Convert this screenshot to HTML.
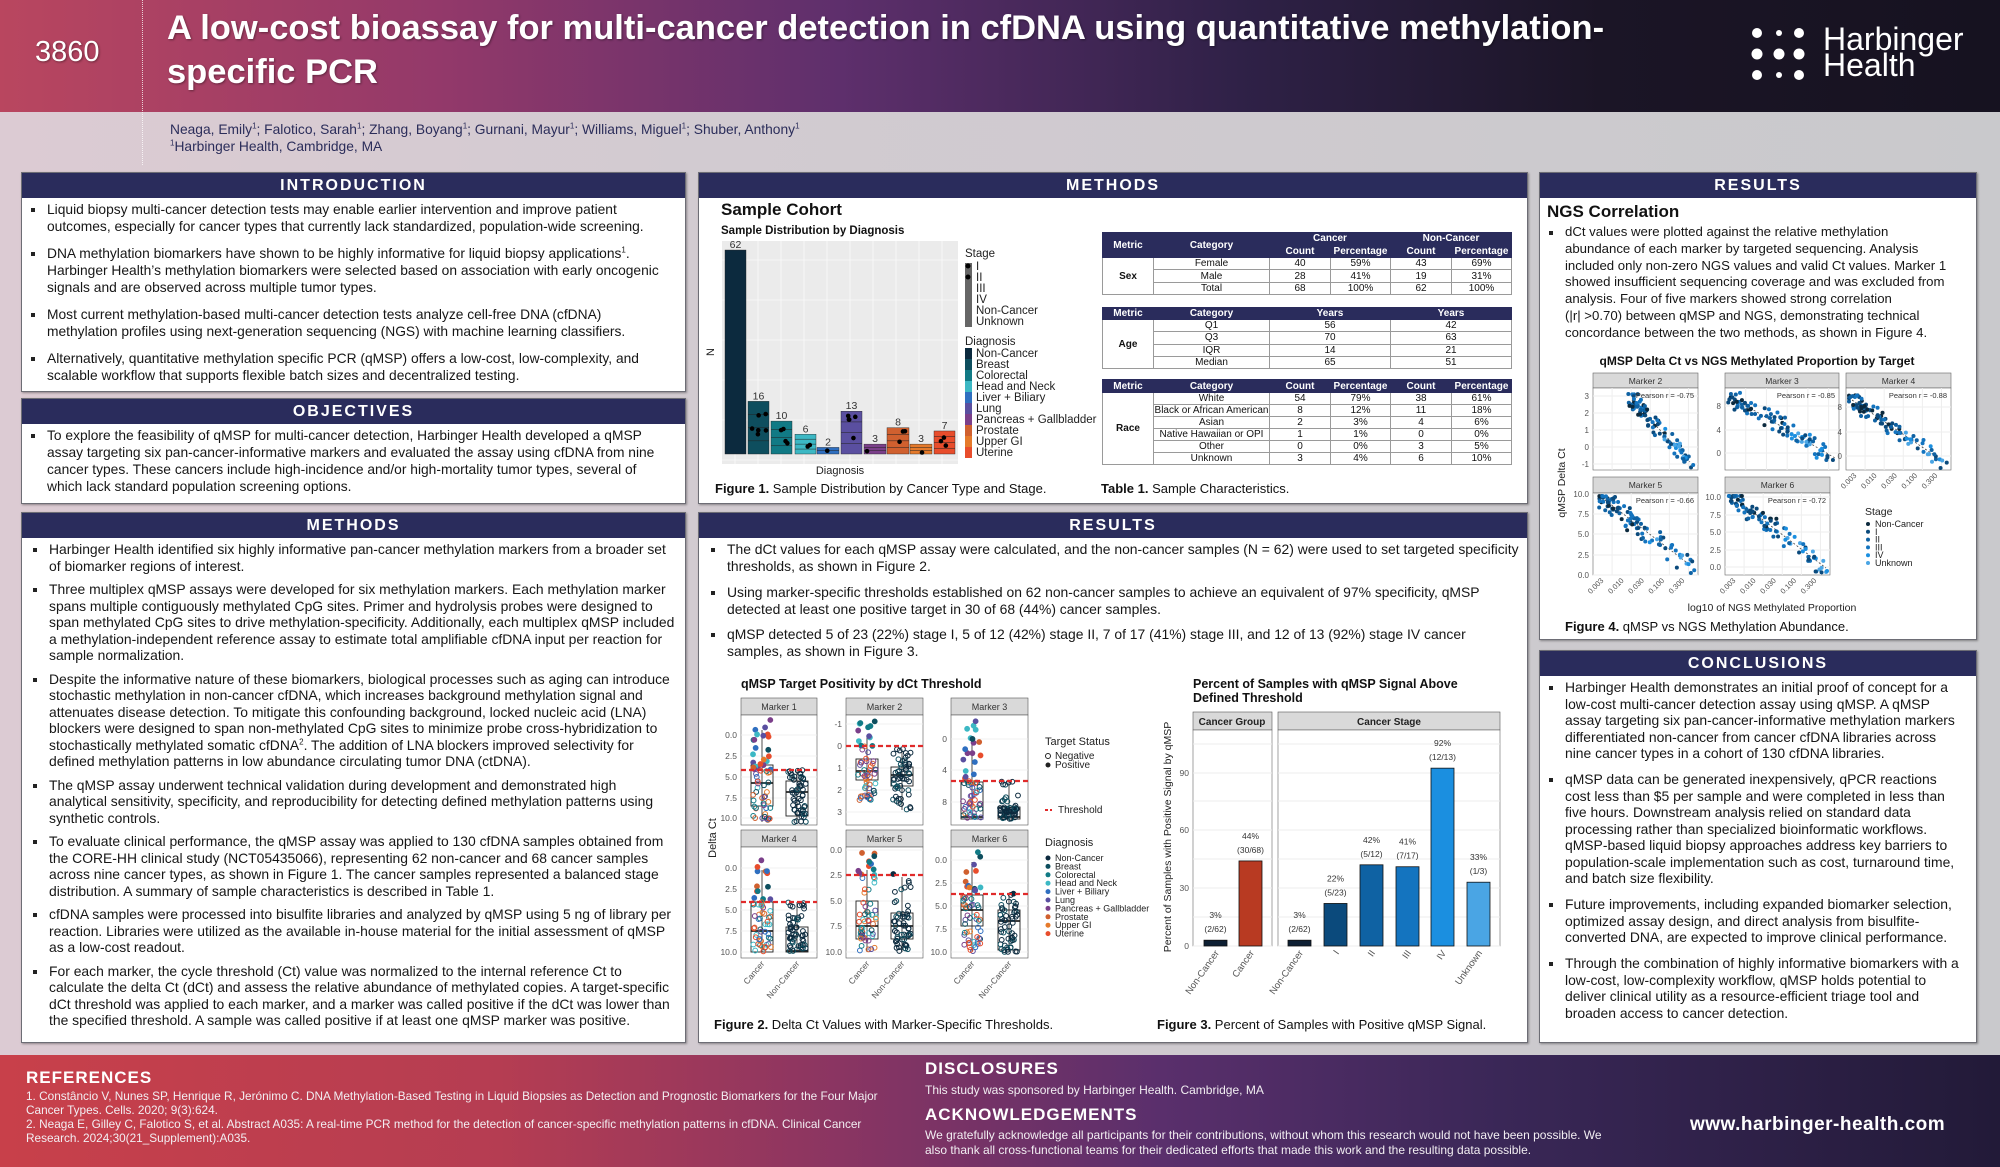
<!DOCTYPE html>
<html><head><meta charset="utf-8">
<style>
*{box-sizing:border-box}
body{margin:0;width:2000px;height:1167px;overflow:hidden;position:relative;font-family:"Liberation Sans",Arial,sans-serif;background:linear-gradient(90deg,#dccbd3 0%,#d2cbd1 35%,#c9c9cc 100%);color:#111}
.abs{position:absolute}
#hdr{left:0;top:0;width:2000px;height:112px;background:linear-gradient(90deg,#b9465f 0%,#93396a 22%,#5e2f6c 42%,#2f2147 62%,#1b1526 80%,#161220 100%)}
.panel{position:absolute;background:#fff;border:1px solid #6d6d75;box-shadow:1px 1px 2px rgba(0,0,0,.35)}
.ph{position:absolute;left:0;right:0;top:0;background:#2a2c5c;color:#fff;font-weight:bold;font-size:16px;letter-spacing:2px;text-align:center;line-height:25px;height:25px}
.txt{position:absolute;font-size:13.8px;white-space:nowrap;color:#161616}
.txt p{margin:0;position:relative;padding-left:17px}
.txt p:before{content:"";position:absolute;left:1px;top:7px;width:4px;height:4px;background:#222}
sup{font-size:8px;line-height:0}
table{border-collapse:collapse;position:absolute;left:1102px;width:409px;font-size:10px;text-align:center;table-layout:fixed}
td,th{border:1px solid #9a9a9a;padding:0;line-height:11px;overflow:hidden;white-space:nowrap}
th{background:#2a2c5c;color:#fff;font-weight:bold;border-color:#2a2c5c}
td.m{font-weight:bold}
.cap{position:absolute;font-size:13px;white-space:nowrap}
.cap b{font-weight:bold}
.ft{position:absolute;color:#f2eef2;white-space:nowrap}
</style></head><body>
<div id="hdr" class="abs"></div>
<div class="abs" style="left:142px;top:0;height:165px;border-left:1px dotted rgba(255,255,255,.75)"></div>
<div class="abs" style="left:35px;top:36px;font-size:29px;color:#fff;text-shadow:1px 1px 2px rgba(0,0,0,.4)">3860</div>
<div class="abs" style="left:167px;top:6px;font-size:34.5px;line-height:44px;font-weight:bold;color:#fff;white-space:nowrap;text-shadow:1px 1px 2px rgba(0,0,0,.4)">A low-cost bioassay for multi-cancer detection in cfDNA using quantitative methylation-<br>specific PCR</div>
<svg class="abs" style="left:1745px;top:22px" width="64" height="64"><g fill="#fff"><circle cx="12" cy="11" r="5"/><circle cx="34" cy="11" r="3"/><circle cx="54" cy="11" r="5"/><circle cx="12" cy="32" r="5.5"/><circle cx="34" cy="32" r="5.5"/><circle cx="54" cy="32" r="5.5"/><circle cx="12" cy="53" r="5"/><circle cx="34" cy="53" r="3"/><circle cx="54" cy="53" r="5"/></g></svg>
<div class="abs" style="left:1823px;top:26px;font-size:32px;line-height:26px;color:#fff;white-space:nowrap">Harbinger<br>Health</div>
<div class="abs" style="left:170px;top:121px;font-size:13.8px;line-height:17px;color:#2b2d5a;white-space:nowrap">Neaga, Emily<sup>1</sup>; Falotico, Sarah<sup>1</sup>; Zhang, Boyang<sup>1</sup>; Gurnani, Mayur<sup>1</sup>; Williams, Miguel<sup>1</sup>; Shuber, Anthony<sup>1</sup><br><sup>1</sup>Harbinger Health, Cambridge, MA</div>

<!-- LEFT COLUMN -->
<div class="panel" style="left:21px;top:172px;width:665px;height:220px"><div class="ph">INTRODUCTION</div></div>
<div class="txt" style="left:30px;top:201px;line-height:17px">
<p style="margin-bottom:10px">Liquid biopsy multi-cancer detection tests may enable earlier intervention and improve patient<br>outcomes, especially for cancer types that currently lack standardized, population-wide screening.</p>
<p style="margin-bottom:10px">DNA methylation biomarkers have shown to be highly informative for liquid biopsy applications<sup>1</sup>.<br>Harbinger Health’s methylation biomarkers were selected based on association with early oncogenic<br>signals and are observed across multiple tumor types.</p>
<p style="margin-bottom:10px">Most current methylation-based multi-cancer detection tests analyze cell-free DNA (cfDNA)<br>methylation profiles using next-generation sequencing (NGS) with machine learning classifiers.</p>
<p>Alternatively, quantitative methylation specific PCR (qMSP) offers a low-cost, low-complexity, and<br>scalable workflow that supports flexible batch sizes and decentralized testing.</p>
</div>
<div class="panel" style="left:21px;top:398px;width:665px;height:106px"><div class="ph">OBJECTIVES</div></div>
<div class="txt" style="left:30px;top:427px;line-height:17px">
<p>To explore the feasibility of qMSP for multi-cancer detection, Harbinger Health developed a qMSP<br>assay targeting six pan-cancer-informative markers and evaluated the assay using cfDNA from nine<br>cancer types. These cancers include high-incidence and/or high-mortality tumor types, several of<br>which lack standard population screening options.</p>
</div>
<div class="panel" style="left:21px;top:512px;width:665px;height:531px"><div class="ph">METHODS</div></div>
<div class="txt" style="left:32px;top:541px;line-height:16.5px;font-size:13.9px">
<p style="margin-bottom:7px">Harbinger Health identified six highly informative pan-cancer methylation markers from a broader set<br>of biomarker regions of interest.</p>
<p style="margin-bottom:7px">Three multiplex qMSP assays were developed for six methylation markers. Each methylation marker<br>spans multiple contiguously methylated CpG sites. Primer and hydrolysis probes were designed to<br>span methylated CpG sites to drive methylation-specificity. Additionally, each multiplex qMSP included<br>a methylation-independent reference assay to estimate total amplifiable cfDNA input per reaction for<br>sample normalization.</p>
<p style="margin-bottom:7px">Despite the informative nature of these biomarkers, biological processes such as aging can introduce<br>stochastic methylation in non-cancer cfDNA, which increases background methylation signal and<br>attenuates disease detection. To mitigate this confounding background, locked nucleic acid (LNA)<br>blockers were designed to span non-methylated CpG sites to minimize probe cross-hybridization to<br>stochastically methylated somatic cfDNA<sup>2</sup>. The addition of LNA blockers improved selectivity for<br>defined methylation patterns in low abundance circulating tumor DNA (ctDNA).</p>
<p style="margin-bottom:7px">The qMSP assay underwent technical validation during development and demonstrated high<br>analytical sensitivity, specificity, and reproducibility for detecting defined methylation patterns using<br>synthetic controls.</p>
<p style="margin-bottom:7px">To evaluate clinical performance, the qMSP assay was applied to 130 cfDNA samples obtained from<br>the CORE-HH clinical study (NCT05435066), representing 62 non-cancer and 68 cancer samples<br>across nine cancer types, as shown in Figure 1. The cancer samples represented a balanced stage<br>distribution. A summary of sample characteristics is described in Table 1.</p>
<p style="margin-bottom:7px">cfDNA samples were processed into bisulfite libraries and analyzed by qMSP using 5 ng of library per<br>reaction. Libraries were utilized as the available in-house material for the initial assessment of qMSP<br>as a low-cost readout.</p>
<p>For each marker, the cycle threshold (Ct) value was normalized to the internal reference Ct to<br>calculate the delta Ct (dCt) and assess the relative abundance of methylated copies. A target-specific<br>dCt threshold was applied to each marker, and a marker was called positive if the dCt was lower than<br>the specified threshold. A sample was called positive if at least one qMSP marker was positive.</p>
</div>

<!-- MIDDLE COLUMN -->
<div class="panel" style="left:698px;top:172px;width:830px;height:332px"><div class="ph">METHODS</div></div>
<div class="abs" style="left:721px;top:200px;font-size:17px;font-weight:bold">Sample Cohort</div>
<div class="abs" style="left:721px;top:225px;font-size:11.5px;font-weight:bold">Sample Distribution by Diagnosis</div>
<div class="cap" style="left:715px;top:481px"><b>Figure 1.</b> Sample Distribution by Cancer Type and Stage.</div>

<table style="top:232px"><colgroup><col style="width:51px"><col style="width:116px"><col style="width:61px"><col style="width:60px"><col style="width:61px"><col style="width:60px"></colgroup>
<tr style="height:12px"><th rowspan="2">Metric</th><th rowspan="2">Category</th><th colspan="2">Cancer</th><th colspan="2">Non-Cancer</th></tr>
<tr style="height:13px"><th>Count</th><th>Percentage</th><th>Count</th><th>Percentage</th></tr>
<tr style="height:12px"><td rowspan="3" class="m">Sex</td><td>Female</td><td>40</td><td>59%</td><td>43</td><td>69%</td></tr>
<tr style="height:13px"><td>Male</td><td>28</td><td>41%</td><td>19</td><td>31%</td></tr>
<tr style="height:11px"><td>Total</td><td>68</td><td>100%</td><td>62</td><td>100%</td></tr>
</table>
<table style="top:307px"><colgroup><col style="width:51px"><col style="width:116px"><col style="width:121px"><col style="width:121px"></colgroup>
<tr style="height:12px"><th>Metric</th><th>Category</th><th>Years</th><th>Years</th></tr>
<tr style="height:12.3px"><td rowspan="4" class="m">Age</td><td>Q1</td><td>56</td><td>42</td></tr>
<tr style="height:12.3px"><td>Q3</td><td>70</td><td>63</td></tr>
<tr style="height:12.3px"><td>IQR</td><td>14</td><td>21</td></tr>
<tr style="height:12.3px"><td>Median</td><td>65</td><td>51</td></tr>
</table>
<table style="top:379px"><colgroup><col style="width:51px"><col style="width:116px"><col style="width:61px"><col style="width:60px"><col style="width:61px"><col style="width:60px"></colgroup>
<tr style="height:13px"><th>Metric</th><th>Category</th><th>Count</th><th>Percentage</th><th>Count</th><th>Percentage</th></tr>
<tr style="height:12px"><td rowspan="6" class="m">Race</td><td>White</td><td>54</td><td>79%</td><td>38</td><td>61%</td></tr>
<tr style="height:12px"><td>Black or African American</td><td>8</td><td>12%</td><td>11</td><td>18%</td></tr>
<tr style="height:12px"><td>Asian</td><td>2</td><td>3%</td><td>4</td><td>6%</td></tr>
<tr style="height:12px"><td>Native Hawaiian or OPI</td><td>1</td><td>1%</td><td>0</td><td>0%</td></tr>
<tr style="height:12px"><td>Other</td><td>0</td><td>0%</td><td>3</td><td>5%</td></tr>
<tr style="height:12px"><td>Unknown</td><td>3</td><td>4%</td><td>6</td><td>10%</td></tr>
</table>
<div class="cap" style="left:1101px;top:481px"><b>Table 1.</b> Sample Characteristics.</div>

<div class="panel" style="left:698px;top:512px;width:830px;height:531px"><div class="ph">RESULTS</div></div>
<div class="txt" style="left:710px;top:541px;line-height:17.3px;font-size:13.9px">
<p style="margin-bottom:8px">The dCt values for each qMSP assay were calculated, and the non-cancer samples (N = 62) were used to set targeted specificity<br>thresholds, as shown in Figure 2.</p>
<p style="margin-bottom:8px">Using marker-specific thresholds established on 62 non-cancer samples to achieve an equivalent of 97% specificity, qMSP<br>detected at least one positive target in 30 of 68 (44%) cancer samples.</p>
<p>qMSP detected 5 of 23 (22%) stage I, 5 of 12 (42%) stage II, 7 of 17 (41%) stage III, and 12 of 13 (92%) stage IV cancer<br>samples, as shown in Figure 3.</p>
</div>
<div class="cap" style="left:714px;top:1017px"><b>Figure 2.</b> Delta Ct Values with Marker-Specific Thresholds.</div>
<div class="cap" style="left:1157px;top:1017px"><b>Figure 3.</b> Percent of Samples with Positive qMSP Signal.</div>

<!-- RIGHT COLUMN -->
<div class="panel" style="left:1539px;top:172px;width:438px;height:468px"><div class="ph">RESULTS</div></div>
<div class="abs" style="left:1547px;top:202px;font-size:17px;font-weight:bold">NGS Correlation</div>
<div class="txt" style="left:1548px;top:224px;line-height:16.8px;font-size:13.2px">
<p>dCt values were plotted against the relative methylation<br>abundance of each marker by targeted sequencing. Analysis<br>included only non-zero NGS values and valid Ct values. Marker 1<br>showed insufficient sequencing coverage and was excluded from<br>analysis. Four of five markers showed strong correlation<br>(|r| &gt;0.70) between qMSP and NGS, demonstrating technical<br>concordance between the two methods, as shown in Figure 4.</p>
</div>
<div class="cap" style="left:1565px;top:619px"><b>Figure 4.</b> qMSP vs NGS Methylation Abundance.</div>

<div class="panel" style="left:1539px;top:650px;width:438px;height:393px"><div class="ph">CONCLUSIONS</div></div>
<div class="txt" style="left:1548px;top:679px;line-height:16.5px;font-size:13.9px">
<p style="margin-bottom:9.5px">Harbinger Health demonstrates an initial proof of concept for a<br>low-cost multi-cancer detection assay using qMSP. A qMSP<br>assay targeting six pan-cancer-informative methylation markers<br>differentiated non-cancer from cancer cfDNA libraries across<br>nine cancer types in a cohort of 130 cfDNA libraries.</p>
<p style="margin-bottom:9.5px">qMSP data can be generated inexpensively, qPCR reactions<br>cost less than $5 per sample and were completed in less than<br>five hours. Downstream analysis relied on standard data<br>processing rather than specialized bioinformatic workflows.<br>qMSP-based liquid biopsy approaches address key barriers to<br>population-scale implementation such as cost, turnaround time,<br>and batch size flexibility.</p>
<p style="margin-bottom:9.5px">Future improvements, including expanded biomarker selection,<br>optimized assay design, and direct analysis from bisulfite-<br>converted DNA, are expected to improve clinical performance.</p>
<p>Through the combination of highly informative biomarkers with a<br>low-cost, low-complexity workflow, qMSP holds potential to<br>deliver clinical utility as a resource-efficient triage tool and<br>broaden access to cancer detection.</p>
</div>

<!-- FOOTER -->
<div class="abs" style="left:0;top:1055px;width:2000px;height:112px;background:linear-gradient(90deg,#c8404a 0%,#b53d52 25%,#8a3562 42%,#5a2f6c 58%,#3a2757 75%,#221a38 100%)"></div>
<div class="ft" style="left:26px;top:1068px;font-size:17px;font-weight:bold;letter-spacing:1px;color:#fff">REFERENCES</div>
<div class="ft" style="left:26px;top:1089px;font-size:11.8px;line-height:14px">1. Constâncio V, Nunes SP, Henrique R, Jerónimo C. DNA Methylation-Based Testing in Liquid Biopsies as Detection and Prognostic Biomarkers for the Four Major<br>Cancer Types. Cells. 2020; 9(3):624.<br>2. Neaga E, Gilley C, Falotico S, et al. Abstract A035: A real-time PCR method for the detection of cancer-specific methylation patterns in cfDNA. Clinical Cancer<br>Research. 2024;30(21_Supplement):A035.</div>
<div class="ft" style="left:925px;top:1059px;font-size:17px;font-weight:bold;letter-spacing:1px;color:#fff">DISCLOSURES</div>
<div class="ft" style="left:925px;top:1083px;font-size:12px">This study was sponsored by Harbinger Health. Cambridge, MA</div>
<div class="ft" style="left:925px;top:1105px;font-size:17px;font-weight:bold;letter-spacing:1px;color:#fff">ACKNOWLEDGEMENTS</div>
<div class="ft" style="left:925px;top:1128px;font-size:12px;line-height:14.5px">We gratefully acknowledge all participants for their contributions, without whom this research would not have been possible. We<br>also thank all cross-functional teams for their dedicated efforts that made this work and the resulting data possible.</div>
<div class="ft" style="left:1690px;top:1114px;font-size:19px;font-weight:bold;letter-spacing:.5px;color:#fff">www.harbinger-health.com</div>

<svg id="ch" class="abs" style="left:0;top:0" width="2000" height="1167" viewBox="0 0 2000 1167" font-family="Liberation Sans, Arial, sans-serif">
<rect x="722" y="241" width="236" height="223" fill="#ebebeb"/>
<g id="f1"></g>
<text x="714" y="352" font-size="11" transform="rotate(-90 714 352)" text-anchor="middle" fill="#222">N</text>
<text x="840" y="474" font-size="11" text-anchor="middle" fill="#222">Diagnosis</text>
<g font-size="11.5" fill="#222">
<text x="965" y="257">Stage</text>
<text x="976" y="270">I</text><text x="976" y="281">II</text><text x="976" y="292">III</text><text x="976" y="303">IV</text><text x="976" y="314">Non-Cancer</text><text x="976" y="325">Unknown</text>
<text x="965" y="345">Diagnosis</text>
<text x="976" y="357">Non-Cancer</text><text x="976" y="368">Breast</text><text x="976" y="379">Colorectal</text><text x="976" y="390">Head and Neck</text><text x="976" y="401">Liver + Biliary</text><text x="976" y="412">Lung</text><text x="976" y="423">Pancreas + Gallbladder</text><text x="976" y="434">Prostate</text><text x="976" y="445">Upper GI</text><text x="976" y="456">Uterine</text>
</g>
<rect x="965" y="263" width="7" height="64" fill="#666"/>
<circle cx="968" cy="266" r="2.5" fill="#000"/><circle cx="968" cy="277" r="2.5" fill="#000"/>
<g id="f1leg"></g>

<text x="741" y="688" font-size="12.5" font-weight="bold" fill="#111">qMSP Target Positivity by dCt Threshold</text>
<text x="716" y="838" font-size="11" transform="rotate(-90 716 838)" text-anchor="middle" fill="#222">Delta Ct</text>
<g id="f2"></g>
<g font-size="10" fill="#222">
<text x="1045" y="745" font-size="11">Target Status</text>
<circle cx="1048" cy="756" r="2.5" fill="none" stroke="#222"/><text x="1055" y="759">Negative</text>
<circle cx="1048" cy="765" r="2.5" fill="#222"/><text x="1055" y="768">Positive</text>
<line x1="1045" y1="810" x2="1052" y2="810" stroke="#e02b2b" stroke-width="2" stroke-dasharray="3,2"/><text x="1058" y="813">Threshold</text>
<text x="1045" y="846" font-size="11">Diagnosis</text>
<g id="f2leg"></g>
</g>

<text x="1193" y="688" font-size="12.5" font-weight="bold" fill="#111">Percent of Samples with qMSP Signal Above</text>
<text x="1193" y="702" font-size="12.5" font-weight="bold" fill="#111">Defined Threshold</text>
<text x="1171" y="837" font-size="10.5" transform="rotate(-90 1171 837)" text-anchor="middle" fill="#222">Percent of Samples with Positive Signal by qMSP</text>
<g id="f3"></g>

<text x="1757" y="365" font-size="12" font-weight="bold" fill="#111" text-anchor="middle">qMSP Delta Ct vs NGS Methylated Proportion by Target</text>
<text x="1565" y="483" font-size="10.5" transform="rotate(-90 1565 483)" text-anchor="middle" fill="#222">qMSP Delta Ct</text>
<text x="1772" y="611" font-size="10.5" text-anchor="middle" fill="#222">log10 of NGS Methylated Proportion</text>
<g id="f4"></g>
<g font-size="9" fill="#222"><text x="1865" y="515" font-size="10.5">Stage</text><g id="f4leg"></g></g>
</svg>

<script>
(function(){
var NS='http://www.w3.org/2000/svg';
function el(p,n,a,t){var e=document.createElementNS(NS,n);for(var k in a)e.setAttribute(k,a[k]);if(t!=null)e.textContent=t;p.appendChild(e);return e}
function R(s){return function(){s|=0;s=s+0x6D2B79F5|0;var t=Math.imul(s^s>>>15,1|s);t=t+Math.imul(t^t>>>7,61|t)^t;return((t^t>>>14)>>>0)/4294967296}}
var rnd=R(12345);
function g(id){return document.getElementById(id)}
var C=['#0c2a3e','#0e4e5e','#117a85','#3cb8c4','#2f6fc0','#5a4fa0','#7b3f8a','#d0602f','#e57a2b','#e84d2c'];

var f1=g('f1');
for(var x=735;x<958;x+=23)el(f1,'line',{x1:x,y1:241,x2:x,y2:464,stroke:'#fff','stroke-width':0.6});
for(var y=260;y<464;y+=40)el(f1,'line',{x1:722,y1:y,x2:958,y2:y,stroke:'#fff','stroke-width':0.6});
var bx=[[725,746],[748,769],[771,792],[795,816],[817,839],[841,862],[864,886],[887,909],[910,932],[934,955]];
var vals=[62,16,10,6,2,13,3,8,3,7];
for(var i=0;i<10;i++){var h=vals[i]*3.29,x0=bx[i][0],w=bx[i][1]-bx[i][0];
 el(f1,'rect',{x:x0,y:454-h,width:w,height:h,fill:C[i],stroke:'#222','stroke-width':0.4});
 if(i>0){var n=Math.min(vals[i],4);for(var k=1;k<n;k++)el(f1,'line',{x1:x0,x2:x0+w,y1:454-h*k/n,y2:454-h*k/n,stroke:'#222','stroke-width':0.5});
  var nd=Math.round(vals[i]/2.5);for(var k=0;k<nd;k++)el(f1,'circle',{cx:x0+3+rnd()*(w-6),cy:454-h+3+rnd()*(h*0.6),r:2.3,fill:'#000'});}
 el(f1,'text',{x:(bx[i][0]+bx[i][1])/2,y:452-h,'font-size':10.5,'text-anchor':'middle',fill:'#333'},vals[i]);
}
var fl=g('f1leg');for(var i=0;i<10;i++)el(fl,'rect',{x:965,y:348+i*11,width:7,height:11,fill:C[i]});

var f2=g('f2');
var facets=[
 {x0:741,x1:817,s0:698,p0:715,p1:825,thr:770,ticks:[['0.0',735],['2.5',756],['5.0',777],['7.5',798],['10.0',818]],b:[[762,765,783,806,730,822,719],[797,781,792,816,770,822,770]]},
 {x0:846,x1:923,s0:698,p0:715,p1:825,thr:746,ticks:[['-1',724],['0',746],['1',768],['2',790],['3',812]],b:[[867,759,771,780,737,800,720],[902,767,775,786,750,810,748]]},
 {x0:951,x1:1028,s0:698,p0:715,p1:825,thr:781,ticks:[['0',739],['4',770],['8',802]],b:[[972,782,817,819,745,819,720],[1009,807,817,819,781,819,780]]},
 {x0:741,x1:817,s0:830,p0:847,p1:958,thr:902,ticks:[['0.0',868],['2.5',889],['5.0',910],['7.5',931],['10.0',952]],b:[[762,902,931,952,870,952,854],[797,927,951,952,902,952,900]]},
 {x0:846,x1:923,s0:830,p0:847,p1:958,thr:875,ticks:[['0.0',850],['2.5',875],['5.0',901],['7.5',926],['10.0',952]],b:[[867,901,926,939,870,952,852],[902,913,926,939,877,952,874]]},
 {x0:951,x1:1028,s0:830,p0:847,p1:958,thr:894,ticks:[['0.0',860],['2.5',883],['5.0',906],['7.5',929],['10.0',952]],b:[[972,895,910,926,862,952,852],[1009,910,921,950,893,952,893]]}
];
facets.forEach(function(f,fi){
 var w=f.x1-f.x0;
 el(f2,'rect',{x:f.x0,y:f.s0,width:w,height:f.p0-f.s0,fill:'#d9d9d9',stroke:'#555','stroke-width':0.6});
 el(f2,'text',{x:(f.x0+f.x1)/2,y:f.s0+12,'font-size':9,'text-anchor':'middle',fill:'#333'},'Marker '+(fi+1));
 el(f2,'rect',{x:f.x0,y:f.p0,width:w,height:f.p1-f.p0,fill:'#fff',stroke:'#555','stroke-width':0.6});
 f.ticks.forEach(function(t){el(f2,'line',{x1:f.x0,x2:f.x1,y1:t[1],y2:t[1],stroke:'#ececec','stroke-width':0.8});
  el(f2,'text',{x:f.x0-4,y:t[1]+3,'font-size':8.5,'text-anchor':'end',fill:'#555'},t[0]);});
 f.b.forEach(function(b,bi){var cx=b[0];
  el(f2,'line',{x1:cx,x2:cx,y1:b[4],y2:b[5],stroke:'#222','stroke-width':0.8});
  el(f2,'rect',{x:cx-11,y:b[1],width:22,height:Math.max(b[3]-b[1],1),fill:'none',stroke:'#222','stroke-width':0.9});
  el(f2,'line',{x1:cx-11,x2:cx+11,y1:b[2],y2:b[2],stroke:'#222','stroke-width':1.8});
  var n=bi==0?60:55;
  for(var k=0;k<n;k++){var y;var r=rnd();
   if(r<0.75)y=b[1]+rnd()*(b[5]-b[1]);else y=b[6]+rnd()*(b[1]-b[6]);
   if(bi==1&&y<f.thr-3&&rnd()<0.8)y=f.thr+rnd()*(b[5]-f.thr);
   var col=bi==0?C[1+Math.floor(rnd()*9)]:(rnd()<0.8?'#0c2a3e':'#0e4e5e');
   var pos=y<f.thr;
   el(f2,'circle',{cx:cx+(rnd()-0.5)*18,cy:y,r:2.4,fill:pos?col:'none',stroke:col,'stroke-width':1});}
 });
 el(f2,'line',{x1:f.x0,x2:f.x1,y1:f.thr,y2:f.thr,stroke:'#e02b2b','stroke-width':2.2,'stroke-dasharray':'5,3'});
 if(fi>=3){[['Cancer',f.b[0][0]],['Non-Cancer',f.b[1][0]]].forEach(function(l){
  el(f2,'text',{x:l[1]+3,y:f.p1+6,'font-size':8.5,'text-anchor':'end',fill:'#555',transform:'rotate(-50 '+(l[1]+3)+' '+(f.p1+6)+')'},l[0]);});}
});
var dl=['Non-Cancer','Breast','Colorectal','Head and Neck','Liver + Biliary','Lung','Pancreas + Gallbladder','Prostate','Upper GI','Uterine'];
var l2=g('f2leg');dl.forEach(function(d,i){el(l2,'circle',{cx:1048,cy:858+i*8.4,r:2.5,fill:C[i]});el(l2,'text',{x:1055,y:861+i*8.4,'font-size':9},d);});

var f3=g('f3');
el(f3,'rect',{x:1193,y:712,width:79,height:18,fill:'#d9d9d9',stroke:'#555','stroke-width':0.6});
el(f3,'text',{x:1232,y:725,'font-size':10,'font-weight':'bold','text-anchor':'middle',fill:'#222'},'Cancer Group');
el(f3,'rect',{x:1278,y:712,width:222,height:18,fill:'#d9d9d9',stroke:'#555','stroke-width':0.6});
el(f3,'text',{x:1389,y:725,'font-size':10,'font-weight':'bold','text-anchor':'middle',fill:'#222'},'Cancer Stage');
[[1193,1272],[1278,1500]].forEach(function(p){
 el(f3,'rect',{x:p[0],y:730,width:p[1]-p[0],height:216,fill:'#fff',stroke:'#666','stroke-width':0.6});
 [946,917,888,859,830,801,773,744].forEach(function(y){el(f3,'line',{x1:p[0],x2:p[1],y1:y,y2:y,stroke:'#ececec'});});
});
[['0',946],['30',888],['60',830],['90',773]].forEach(function(t){el(f3,'text',{x:1189,y:t[1]+3,'font-size':8.5,'text-anchor':'end',fill:'#555'},t[0]);});
var bars=[[1204,3,'#0d1f33','3%','(2/62)','Non-Cancer'],[1239,44,'#b83a22','44%','(30/68)','Cancer'],[1288,3,'#0d1f33','3%','(2/62)','Non-Cancer'],[1324,22,'#0b4a7c','22%','(5/23)','I'],[1360,42,'#0f62a3','42%','(5/12)','II'],[1396,41,'#1474bf','41%','(7/17)','III'],[1431,92,'#1b8fe0','92%','(12/13)','IV'],[1467,33,'#4aa5e4','33%','(1/3)','Unknown']];
bars.forEach(function(b){var h=b[1]*1.933,cx=b[0]+11.5;
 el(f3,'rect',{x:b[0],y:946-h,width:23,height:h,fill:b[2],stroke:'#111','stroke-width':0.8});
 el(f3,'text',{x:cx,y:946-h-22,'font-size':8.5,'text-anchor':'middle',fill:'#333'},b[3]);
 el(f3,'text',{x:cx,y:946-h-8,'font-size':8.5,'text-anchor':'middle',fill:'#333'},b[4]);
 el(f3,'text',{x:cx+4,y:953,'font-size':9.5,'text-anchor':'end',fill:'#555',transform:'rotate(-55 '+(cx+4)+' 953)'},b[5]);
});

var f4=g('f4');var B=['#0c2a3e','#0b4a7c','#0f62a3','#1474bf','#1b8fe0','#4aa5e4'];
var sc=[
 {n:'Marker 2',x0:1593,x1:1698,s0:373,p0:388,p1:470,r:'-0.75',a:[1632,400],b:[1690,462],nz:7,ticks:[['3',396],['2',413],['1',430],['0',447],['-1',464]]},
 {n:'Marker 3',x0:1725,x1:1839,s0:373,p0:388,p1:470,r:'-0.85',a:[1733,398],b:[1835,458],nz:8,ticks:[['8',406],['4',430],['0',453]]},
 {n:'Marker 4',x0:1846,x1:1951,s0:373,p0:388,p1:470,r:'-0.88',a:[1852,400],b:[1946,463],nz:7,ticks:[['8',407],['4',432],['0',456]],xl:1},
 {n:'Marker 5',x0:1593,x1:1698,s0:477,p0:493,p1:575,r:'-0.66',a:[1605,500],b:[1690,565],nz:10,ticks:[['10.0',494],['7.5',514],['5.0',534],['2.5',555],['0.0',575]],xl:1},
 {n:'Marker 6',x0:1725,x1:1830,s0:477,p0:493,p1:575,r:'-0.72',a:[1733,497],b:[1826,568],nz:8,ticks:[['10.0',497],['7.5',515],['5.0',532],['2.5',550],['0.0',567]],xl:1}
];
sc.forEach(function(f){var w=f.x1-f.x0;
 el(f4,'rect',{x:f.x0,y:f.s0,width:w,height:f.p0-f.s0,fill:'#d9d9d9',stroke:'#666','stroke-width':0.6});
 el(f4,'text',{x:(f.x0+f.x1)/2,y:f.s0+11,'font-size':8.5,'text-anchor':'middle',fill:'#333'},f.n);
 el(f4,'rect',{x:f.x0,y:f.p0,width:w,height:f.p1-f.p0,fill:'#fff',stroke:'#666','stroke-width':0.6});
 for(var i=1;i<6;i++){var xx=f.x0+w*i/5.5;el(f4,'line',{x1:xx,x2:xx,y1:f.p0,y2:f.p1,stroke:'#eee'});}
 f.ticks.forEach(function(t){el(f4,'line',{x1:f.x0,x2:f.x1,y1:t[1],y2:t[1],stroke:'#eee'});el(f4,'text',{x:f.x0-4,y:t[1]+3,'font-size':8,'text-anchor':'end',fill:'#555'},t[0]);});
 el(f4,'line',{x1:f.a[0],y1:f.a[1],x2:f.b[0],y2:f.b[1],stroke:'#444','stroke-dasharray':'2,2','stroke-width':0.8});
 for(var k=0;k<95;k++){var t=Math.pow(rnd(),1.6);var x=f.a[0]+(f.b[0]-f.a[0])*t,y=f.a[1]+(f.b[1]-f.a[1])*t;
  x+=(rnd()-0.5)*f.nz*1.6;y+=(rnd()-0.5)*f.nz*2;
  y=Math.max(f.p0+3,Math.min(f.p1-2,y));x=Math.max(f.x0+3,Math.min(f.x1-3,x));
  var ci=t<0.5?Math.floor(rnd()*4):1+Math.floor(rnd()*5);
  el(f4,'circle',{cx:x,cy:y,r:2,fill:B[ci]});}
 el(f4,'text',{x:f.x1-4,y:f.p0+10,'font-size':7.5,'text-anchor':'end',fill:'#333'},'Pearson r = '+f.r);
 if(f.xl){['0.003','0.010','0.030','0.100','0.300'].forEach(function(l,i){var xx=f.x0+8+i*(w-16)/4.4;
  el(f4,'text',{x:xx+3,y:f.p1+6,'font-size':7.5,'text-anchor':'end',fill:'#555',transform:'rotate(-45 '+(xx+3)+' '+(f.p1+6)+')'},l);});}
});
var st=['Non-Cancer','I','II','III','IV','Unknown'];var l4=g('f4leg');
st.forEach(function(s,i){el(l4,'circle',{cx:1868,cy:524+i*7.8,r:2,fill:B[i]});el(l4,'text',{x:1875,y:527+i*7.8},s);});
})();
</script>
</body></html>
